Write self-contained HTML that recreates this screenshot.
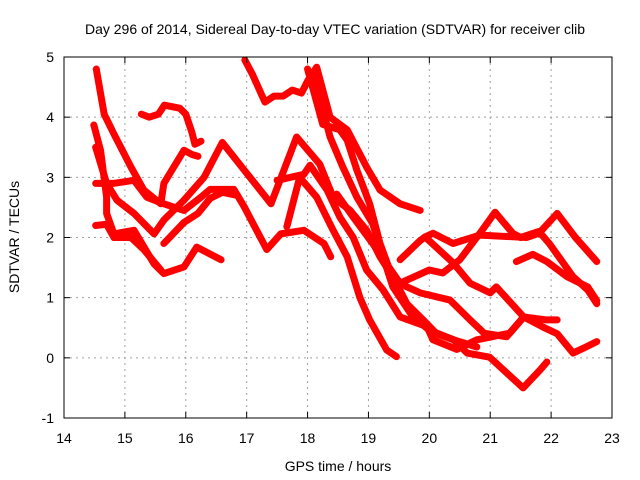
<!DOCTYPE html>
<html><head><meta charset="utf-8"><style>
html,body{margin:0;padding:0;background:#fff;}
svg{display:block;font-family:"Liberation Sans",sans-serif;}
</style></head><body>
<svg id="chart" width="640" height="480">
<text x="335" y="34" font-size="14" text-anchor="middle">Day 296 of 2014, Sidereal Day-to-day VTEC variation (SDTVAR) for receiver clib</text>
<text x="338" y="471" font-size="14" text-anchor="middle">GPS time / hours</text>
<text transform="translate(19,237) rotate(-90)" font-size="14" text-anchor="middle">SDTVAR / TECUs</text>
<g id="grid"></g><g id="series"></g><g id="axes"></g>
</svg>
<script>
const xTicks=[14,15,16,17,18,19,20,21,22,23];
const yTicks=[-1,0,1,2,3,4,5];
const trackA=[[14.53,4.8],[14.66,4.05],[14.82,3.72],[15.1,3.17],[15.31,2.79],[15.59,2.56],[15.64,2.9],[15.97,3.45],[16.1,3.38],[16.2,3.35]];
const trackB=[[14.49,3.87],[14.6,3.45],[14.7,2.67],[14.7,2.4],[14.82,2.06],[15.15,2.12],[15.48,1.56],[15.64,1.4],[15.97,1.51],[16.18,1.84],[16.58,1.63]];
const trackC=[[14.52,3.5],[14.7,2.9],[14.87,2.62],[15.15,2.4],[15.48,2.06],[15.64,2.29],[15.97,2.62],[16.3,3.0],[16.6,3.58],[16.96,3.12],[17.4,2.56],[17.82,3.67],[18.2,3.22],[18.42,2.67],[18.7,2.45],[18.97,2.12],[19.19,1.68],[19.4,1.34],[19.63,1.18],[19.85,1.08],[20.34,0.96],[20.67,0.63],[20.9,0.41],[21.27,0.35],[21.55,0.68],[21.87,0.51],[22.1,0.4],[22.36,0.08],[22.53,0.16],[22.75,0.27]];
const trackD=[[14.52,2.9],[14.82,2.9],[15.15,2.95],[15.36,2.67],[15.64,2.56],[15.97,2.45],[16.25,2.67],[16.4,2.8],[16.79,2.8],[16.96,2.51],[17.33,1.8],[17.56,2.06],[17.94,2.12],[18.27,1.9],[18.38,1.68]];
const trackE=[[14.52,2.2],[14.7,2.22],[14.82,2.0],[15.1,2.0],[15.31,1.8],[15.59,1.46]];
const trackF=[[15.64,1.9],[15.97,2.25],[16.2,2.4],[16.4,2.65],[16.6,2.75],[16.85,2.7]];
const trackG=[[15.27,4.05],[15.4,4.0],[15.55,4.05],[15.65,4.2],[15.9,4.15],[16.0,4.05],[16.1,3.75],[16.15,3.55],[16.25,3.6]];
const trackH=[[16.97,4.95],[17.1,4.7],[17.3,4.25],[17.45,4.35],[17.6,4.35],[17.75,4.45],[17.9,4.4],[18.0,4.6],[18.15,4.83],[18.37,4.0],[18.65,3.79],[18.97,3.17],[19.19,2.79],[19.52,2.56],[19.85,2.45]];
const trackI=[[17.5,2.95],[17.94,3.05],[18.04,3.2],[18.32,2.79],[18.53,2.34],[18.75,2.0],[18.97,1.46],[19.24,1.13],[19.52,0.68],[19.96,0.52],[20.06,0.3],[20.45,0.14],[20.78,0.3],[21.32,0.41],[21.55,0.68]];
const trackJ=[[17.66,2.18],[17.87,3.0],[18.15,2.67],[18.42,2.12],[18.65,1.68],[18.86,1.0],[19.02,0.63],[19.3,0.13],[19.46,0.02]];
const trackK=[[18.0,4.8],[18.25,3.88],[18.53,3.79],[18.65,3.62],[18.81,3.12],[19.02,2.56],[19.19,1.9],[19.35,1.46],[19.63,0.9],[19.9,0.63],[20.12,0.4],[20.4,0.3],[20.62,0.08],[20.99,0.01],[21.54,-0.5],[21.82,-0.2],[21.93,-0.07]];
const trackL=[[18.1,4.7],[18.37,3.67],[18.58,3.17],[18.81,2.67],[19.07,2.23],[19.24,1.68],[19.4,1.18],[19.73,0.68],[20.0,0.46],[20.4,0.3],[20.78,0.18]];
const trackM=[[18.48,2.72],[18.75,2.34],[19.07,1.9],[19.3,1.56],[19.52,1.24],[20.0,1.46],[20.22,1.41],[20.5,1.63],[20.83,2.07],[21.08,2.42],[21.37,2.07],[21.5,2.0],[21.8,2.1],[21.97,1.9],[22.36,1.35],[22.6,1.13],[22.75,0.9]];
const trackN=[[19.52,1.63],[19.85,1.95],[19.93,2.01],[20.06,2.07],[20.39,1.9],[20.83,2.04],[21.6,2.0],[21.8,2.07],[22.1,2.4],[22.4,2.0],[22.75,1.6]];
const trackO=[[19.93,2.01],[20.39,1.58],[20.67,1.24],[21.0,1.08],[21.1,1.18],[21.55,0.68],[21.93,0.63],[22.1,0.63]];
const trackP=[[21.43,1.6],[21.7,1.72],[21.93,1.6],[22.26,1.35],[22.6,1.18],[22.75,0.95]];
const tracks=[trackA,trackB,trackC,trackD,trackE,trackF,trackG,trackH,trackI,trackJ,trackK,trackL,trackM,trackN,trackO,trackP];
const trackNames=['a','b','c','d','e','f','g','h','i','j','k','l','m','n','o','p'];
const L=64,R=612,T=57,B=418,xMin=14,xMax=23,yMin=-1,yMax=5;
const sx=v=>L+(v-xMin)/(xMax-xMin)*(R-L);
const sy=v=>B-(v-yMin)/(yMax-yMin)*(B-T);
const NS='http://www.w3.org/2000/svg';
const grid=document.getElementById('grid'),axes=document.getElementById('axes'),ser=document.getElementById('series');
function mk(tag,at,parent){const e=document.createElementNS(NS,tag);for(const k in at)e.setAttribute(k,at[k]);parent.appendChild(e);return e;}
xTicks.forEach(t=>{
  const x=sx(t);
  if(t>xMin&&t<xMax){const g=mk('line',{x1:x,y1:T,x2:x,y2:B,stroke:'#a0a0a0','stroke-dasharray':'2,4'},grid);
  
  }
  mk('line',{x1:x,y1:B,x2:x,y2:B-6,stroke:'#000'},axes);
  mk('line',{x1:x,y1:T,x2:x,y2:T+6,stroke:'#000'},axes);
  const lb=mk('text',{x:x,y:B+25,'font-size':14,'text-anchor':'middle'},axes);lb.textContent=t;
  
  
});
yTicks.forEach(t=>{
  const y=sy(t);
  if(t>yMin&&t<yMax){const g=mk('line',{x1:L,y1:y,x2:R,y2:y,stroke:'#a0a0a0','stroke-dasharray':'2,4'},grid);
  
  }
  mk('line',{x1:L,y1:y,x2:L+6,y2:y,stroke:'#000'},axes);
  mk('line',{x1:R,y1:y,x2:R-6,y2:y,stroke:'#000'},axes);
  const lb=mk('text',{x:L-10,y:y+5,'font-size':14,'text-anchor':'end'},axes);lb.textContent=t;
  
  
});
const fr=mk('rect',{x:L,y:T,width:R-L,height:B-T,fill:'none',stroke:'#000'},axes);


tracks.forEach((tr,i)=>{
  const p=mk('polyline',{points:tr.map(d=>sx(d[0])+','+sy(d[1])).join(' '),fill:'none',stroke:'#ff0000','stroke-width':7,'stroke-linejoin':'round','stroke-linecap':'round'},ser);
  
  
});
</script>
</body></html>
